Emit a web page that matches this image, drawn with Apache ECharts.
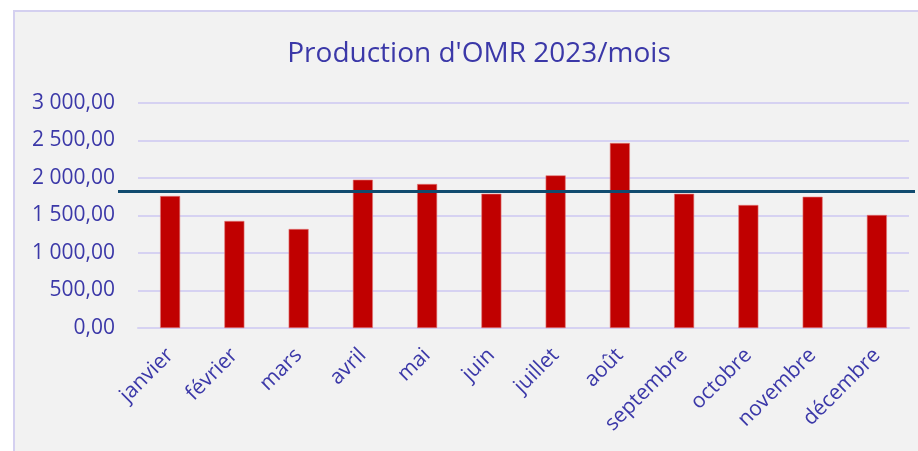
<!DOCTYPE html>
<html>
<head>
<meta charset="utf-8">
<script src="https://cdn.jsdelivr.net/npm/echarts@6/dist/echarts.min.js"></script>
<style>
  html, body { margin: 0; padding: 0; background: #ffffff; }
  #chart { width: 918px; height: 451px; }
</style>
</head>
<body>
<div id="chart"></div>
<script>
const mois = ['janvier', 'février', 'mars', 'avril', 'mai', 'juin', 'juillet', 'août', 'septembre', 'octobre', 'novembre', 'décembre'];
const production = [1760, 1427, 1320, 1977, 1920, 1790, 2035, 2467, 1790, 1640, 1750, 1507];
// horizontal reference line (drawn as a 2-point series across the chart)
const ligneRef = [1820, 1820];
const yTicks = [0, 500, 1000, 1500, 2000, 2500, 3000];

const violet = '#3b38a8';
const font = '"Open Sans", "Noto Sans", sans-serif';

function fmt(v) {
  const parts = v.toFixed(2).split('.');
  return parts[0].replace(/\B(?=(\d{3})+(?!\d))/g, ' ') + ',' + parts[1];
}

const chart = echarts.init(document.getElementById('chart'));
chart.setOption({
  backgroundColor: '#ffffff',
  animation: false,
  graphic: [{
    type: 'rect',
    z: -10,
    shape: { x: 14, y: 11, width: 920, height: 460 },
    style: { fill: '#f2f2f2', stroke: '#d4d0f0', lineWidth: 2 }
  }],
  title: {
    text: "Production d'OMR 2023/mois",
    left: 474,
    textAlign: 'center',
    top: 35,
    textStyle: { color: violet, fontSize: 28, fontWeight: 'normal', fontFamily: font }
  },
  grid: [
    { left: 138, right: 9, top: 103, bottom: 123 },
    { left: 118, right: 3, top: 103, bottom: 123 }
  ],
  xAxis: [{
    type: 'category',
    gridIndex: 0,
    data: mois,
    axisLine: { lineStyle: { color: '#d6d2f2', width: 2 } },
    axisTick: { show: false },
    axisLabel: { rotate: 45, margin: 24, color: violet, fontSize: 21, fontFamily: font, interval: 0 }
  }, {
    type: 'value',
    gridIndex: 1,
    min: 0,
    max: 1,
    show: false
  }],
  yAxis: [{
    type: 'value',
    gridIndex: 0,
    min: yTicks[0],
    max: yTicks[yTicks.length - 1],
    interval: yTicks[1] - yTicks[0],
    axisLine: { show: false },
    axisTick: { show: false },
    splitLine: { lineStyle: { color: '#d6d2f2', width: 2 } },
    axisLabel: { color: violet, fontSize: 21, fontFamily: font, margin: 23, formatter: fmt }
  }, {
    type: 'value',
    gridIndex: 1,
    min: yTicks[0],
    max: yTicks[yTicks.length - 1],
    show: false
  }],
  series: [{
    type: 'bar',
    xAxisIndex: 0,
    yAxisIndex: 0,
    data: production,
    barWidth: 20,
    itemStyle: { color: '#c00000', borderColor: '#e27a7a', borderWidth: 0.6 }
  }, {
    type: 'line',
    xAxisIndex: 1,
    yAxisIndex: 1,
    data: ligneRef.map((v, i) => [i, v]),
    symbol: 'none',
    lineStyle: { color: '#114b6f', width: 3 },
    z: 5
  }]
});
</script>
</body>
</html>
